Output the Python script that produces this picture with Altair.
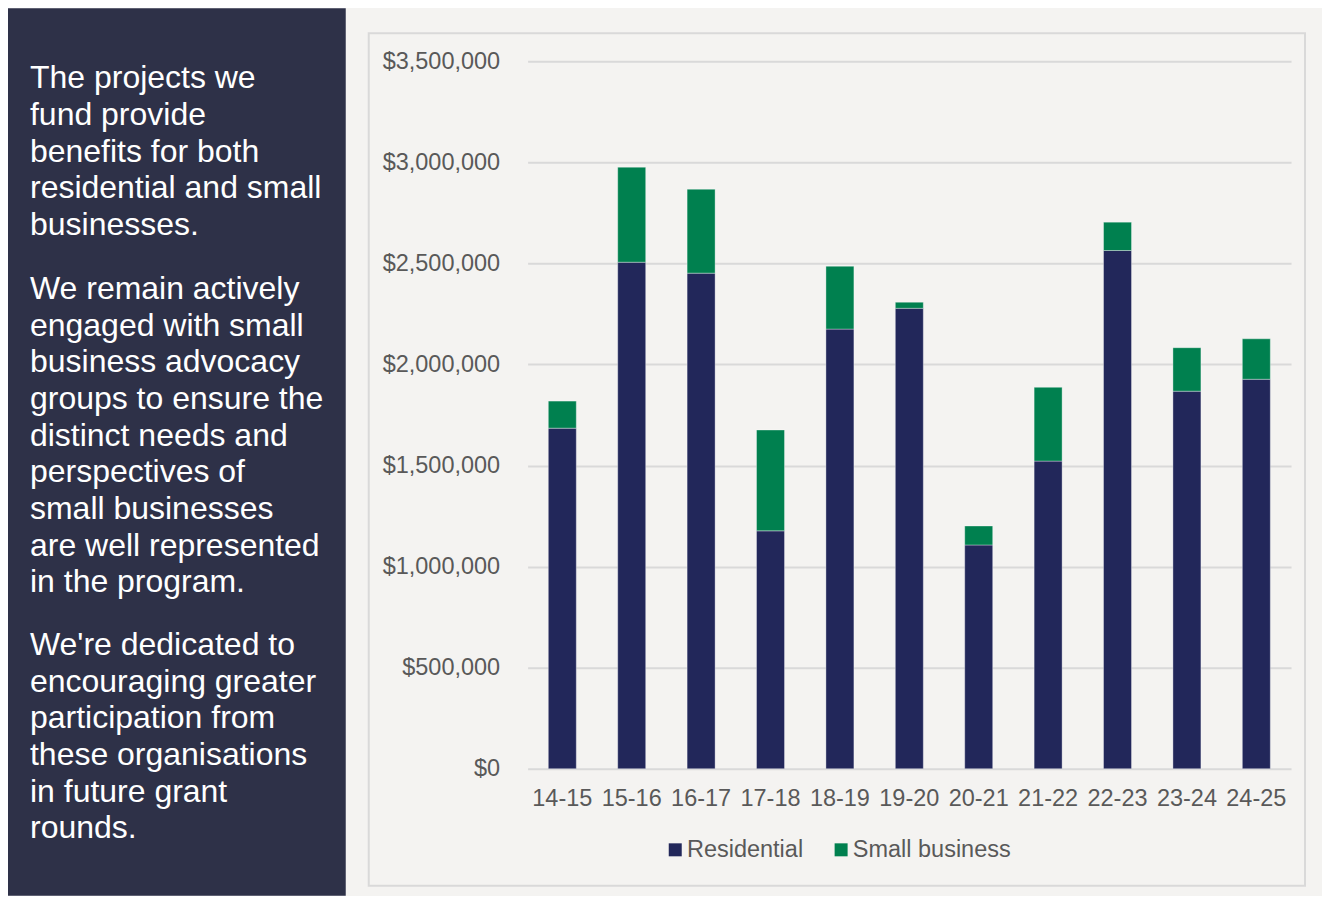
import altair as alt
import pandas as pd

# ---- data ----
YEARS = ["14-15", "15-16", "16-17", "17-18", "18-19", "19-20",
         "20-21", "21-22", "22-23", "23-24", "24-25"]
RESIDENTIAL = [1685000, 2506000, 2452000, 1177000, 2175000, 2278000,
               1107000, 1522000, 2564000, 1868000, 1927000]
SMALL_BUSINESS = [134000, 470000, 415000, 499000, 311000, 30000,
                  94000, 365000, 140000, 215000, 200000]
SERIES = ["Residential", "Small business"]
COLORS = ["#22275a", "#00804f"]
Y_TICKS = [0, 500000, 1000000, 1500000, 2000000, 2500000, 3000000, 3500000]

P1 = ["The projects we", "fund provide", "benefits for both",
      "residential and small", "businesses."]
P2 = ["We remain actively", "engaged with small", "business advocacy",
      "groups to ensure the", "distinct needs and", "perspectives of",
      "small businesses", "are well represented", "in the program."]
P3 = ["We're dedicated to", "encouraging greater", "participation from",
      "these organisations", "in future grant", "rounds."]

rows = []
for i, y in enumerate(YEARS):
    rows.append({"year": y, "series": SERIES[0], "ord": 0, "value": RESIDENTIAL[i]})
    rows.append({"year": y, "series": SERIES[1], "ord": 1, "value": SMALL_BUSINESS[i]})
df = pd.DataFrame(rows)

FONT = "Liberation Sans"
LABEL_COLOR = "#595959"
GRID = "#d9d9d9"
one = pd.DataFrame({"d": [0]})

# decorative panels (pixel positions relative to plot origin)
dark_panel = alt.Chart(one).mark_rect(color="#2e3148").encode(
    x=alt.value(-520), x2=alt.value(-182), y=alt.value(-53), y2=alt.value(835)
)
frame = alt.Chart(one).mark_rect(
    fillOpacity=0, stroke=GRID, strokeWidth=2
).encode(
    x=alt.value(-159), x2=alt.value(778), y=alt.value(-28), y2=alt.value(825)
)

def para(lines, ybase):
    return alt.Chart(one).mark_text(
        text=lines, font=FONT, fontSize=32, color="#ffffff",
        align="left", baseline="alphabetic", lineHeight=36.7
    ).encode(x=alt.value(-498), y=alt.value(ybase))

bars = alt.Chart(df).mark_bar(
    width=28, stroke="#ffffff", strokeOpacity=0.35, strokeWidth=1
).encode(
    x=alt.X("year:N", sort=YEARS,
            scale=alt.Scale(paddingInner=0, paddingOuter=0),
            axis=alt.Axis(title=None, labelAngle=0, labelFont=FONT,
                          labelFontSize=23.5, labelColor=LABEL_COLOR,
                          labelPadding=18, ticks=False, tickSize=0,
                          domain=False, grid=False)),
    y=alt.Y("value:Q", stack="zero",
            scale=alt.Scale(domain=[0, 3500000], nice=False),
            axis=alt.Axis(title=None, values=Y_TICKS, format="$,.0f",
                          labelFont=FONT, labelFontSize=23.5,
                          labelColor=LABEL_COLOR, labelPadding=28,
                          ticks=False, tickSize=0, domain=False,
                          grid=True, gridColor=GRID, gridWidth=2)),
    color=alt.Color("series:N",
                    scale=alt.Scale(domain=SERIES, range=COLORS),
                    legend=alt.Legend(title=None, orient="none",
                                      legendX=136, legendY=777,
                                      direction="horizontal",
                                      symbolType="square", symbolSize=169,
                                      symbolStrokeWidth=0,
                                      labelFont=FONT, labelFontSize=23.5,
                                      labelColor=LABEL_COLOR, labelOffset=0,
                                      columnPadding=26, padding=0)),
    order=alt.Order("ord:Q", sort="ascending"),
)

chart = alt.layer(
    dark_panel, frame, bars,
    para(P1, 27), para(P2, 238), para(P3, 594)
).properties(
    width=764, height=708,
    background="#f4f3f1",
    padding={"left": 0, "top": 0, "right": 16, "bottom": 0},
).configure_view(stroke=None)

chart.save("out.html", embed_options={"renderer": "svg", "actions": False})
